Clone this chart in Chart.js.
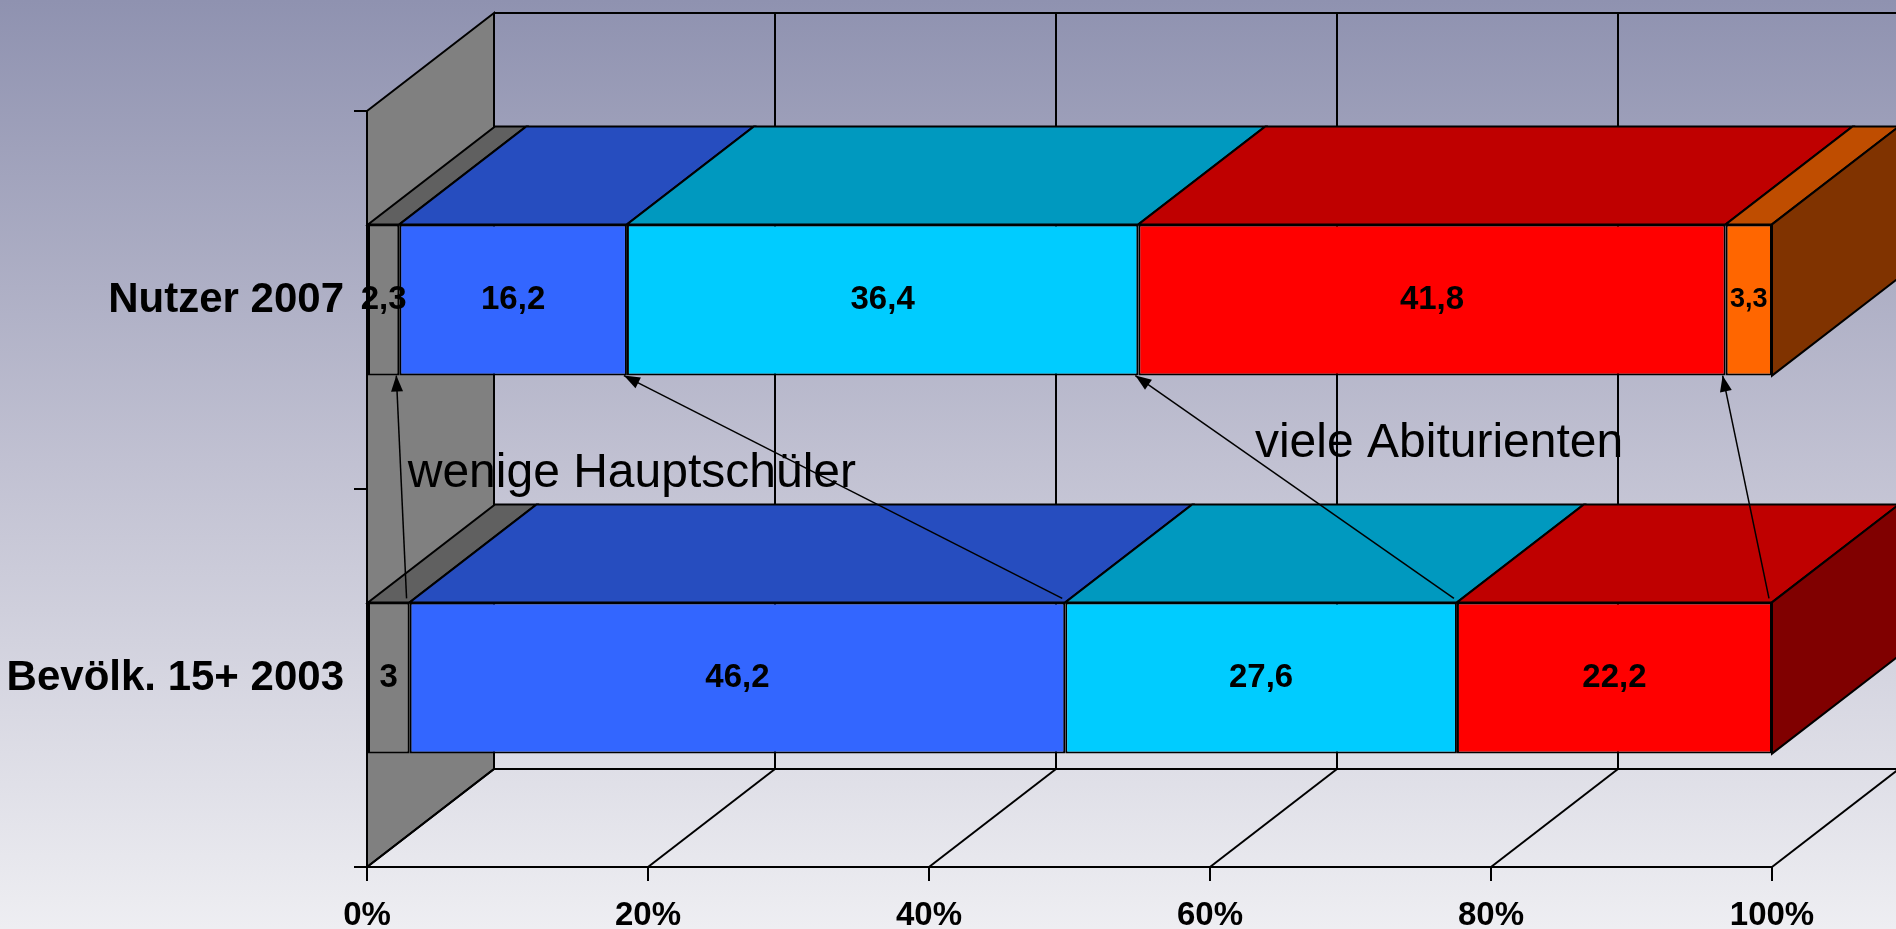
<!DOCTYPE html>
<html>
<head>
<meta charset="utf-8">
<script src="https://cdn.jsdelivr.net/npm/chart.js@4.4.0/dist/chart.umd.min.js"></script>
<style>
  html, body { margin: 0; padding: 0; width: 1896px; height: 929px; overflow: hidden; }
  body { background: linear-gradient(to bottom, #8f92b0 0%, #c1c1d2 50%, #eeeef2 100%); }
  canvas { display: block; }
</style>
</head>
<body>
<canvas id="grafik" width="1896" height="929"></canvas>
<script>
// Daten (Anteile in %, wie in der Vorlage beschriftet)
const kategorien = ['Nutzer 2007', 'Bevölk. 15+ 2003']
const reihen = ['ohne Abschluss', 'Hauptschule', 'Mittlere Reife', 'Abitur', 'sonstige']
const ohneAbschluss = [2.3, 3]
const hauptschule = [16.2, 46.2]
const mittlereReife = [36.4, 27.6]
const abitur = [41.8, 22.2]
const sonstige = [3.3, null]
const xTickSchritt = 20

// Hinweise (Position in Achseneinheiten: x in %, y als Kategorie-Index)
const hinweise = [
  { text: 'wenige Hauptschüler', x: 2.9, y: 0.495 },
  { text: 'viele Abiturienten', x: 63.2, y: 0.415 }
]

const schrift = 'Arial, "Liberation Sans", Helvetica, sans-serif'
const farben = ['#808080', '#3366ff', '#00ccff', '#ff0000', '#ff6600']
const werte = [ohneAbschluss, hauptschule, mittlereReife, abitur, sonstige]

// 100%-gestapelt: jede Zeile auf 100 normieren
const summen = kategorien.map((k, i) => werte.reduce((s, r) => s + (r[i] || 0), 0))

const datasets = werte.map((reihe, j) => ({
  label: reihen[j],
  data: reihe.map((v, i) => v == null ? null : v / summen[i] * 100),
  roh: reihe,
  labelGroesse: j == 4 ? 27 : 33,
  backgroundColor: farben[j],
  borderColor: '#000',
  borderWidth: 2,
  borderSkipped: false,
  barPercentage: 0.4,
  categoryPercentage: 1
}))

// Farbe abdunkeln (fuer Ober- und Seitenflaechen)
function dunkler(hex, f) {
  const n = parseInt(hex.slice(1), 16)
  const r = Math.round(((n >> 16) & 255) * f)
  const g = Math.round(((n >> 8) & 255) * f)
  const b = Math.round((n & 255) * f)
  return 'rgb(' + r + ',' + g + ',' + b + ')'
}

function linie(ctx, x1, y1, x2, y2) {
  ctx.beginPath()
  ctx.moveTo(x1, y1)
  ctx.lineTo(x2, y2)
  ctx.stroke()
}

function flaeche(ctx, punkte, farbe) {
  ctx.beginPath()
  ctx.moveTo(punkte[0][0], punkte[0][1])
  for (let k = 1; k < punkte.length; k++) ctx.lineTo(punkte[k][0], punkte[k][1])
  ctx.closePath()
  ctx.fillStyle = farbe
  ctx.fill()
  ctx.stroke()
}

const TX = 127, TY = 98   // Tiefe der 3D-Darstellung

const raumPlugin = {
  id: 'raum',
  beforeDatasetsDraw(chart) {
    const ctx = chart.ctx
    const a = chart.chartArea
    const x = chart.scales.x
    ctx.save()
    ctx.strokeStyle = '#000'
    ctx.lineWidth = 2
    // linke Wand
    flaeche(ctx, [[a.left, a.top], [a.left + TX, a.top - TY], [a.left + TX, a.bottom - TY], [a.left, a.bottom]], '#808080')
    // Rueckwand oben und Boden hinten
    linie(ctx, a.left + TX, a.top - TY, a.right + TX, a.top - TY)
    linie(ctx, a.left + TX, a.bottom - TY, a.right + TX, a.bottom - TY)
    x.ticks.forEach(t => {
      const p = x.getPixelForValue(t.value)
      linie(ctx, p + TX, a.top - TY, p + TX, a.bottom - TY)
      linie(ctx, p, a.bottom, p + TX, a.bottom - TY)
    })
    ctx.restore()
  },
  afterDatasetsDraw(chart) {
    const ctx = chart.ctx
    const x = chart.scales.x
    const y = chart.scales.y
    const metas = chart.getSortedVisibleDatasetMetas()
    ctx.save()
    ctx.strokeStyle = '#000'
    ctx.lineWidth = 2

    // Oberseiten und Seitenflaeche
    kategorien.forEach((k, i) => {
      let letztes = null
      metas.forEach(m => {
        const ds = chart.data.datasets[m.index]
        if (ds.data[i] == null) return
        const el = m.data[i].getProps(['x', 'y', 'base', 'height'], true)
        const oben = el.y - el.height / 2
        flaeche(ctx, [[el.base, oben], [el.x, oben], [el.x + TX, oben - TY], [el.base + TX, oben - TY]], dunkler(ds.backgroundColor, 0.75))
        letztes = { el: el, farbe: ds.backgroundColor }
      })
      if (letztes) {
        const el = letztes.el
        const oben = el.y - el.height / 2, unten = el.y + el.height / 2
        flaeche(ctx, [[el.x, oben], [el.x + TX, oben - TY], [el.x + TX, unten - TY], [el.x, unten]], dunkler(letztes.farbe, 0.5))
      }
    })

    // Werte-Beschriftung
    ctx.fillStyle = '#000'
    ctx.textAlign = 'center'
    ctx.textBaseline = 'middle'
    metas.forEach(m => {
      const ds = chart.data.datasets[m.index]
      ctx.font = 'bold ' + ds.labelGroesse + 'px ' + schrift
      kategorien.forEach((k, i) => {
        if (ds.roh[i] == null) return
        const el = m.data[i].getProps(['x', 'y', 'base'], true)
        ctx.fillText(String(ds.roh[i]).replace('.', ','), (el.x + el.base) / 2, el.y)
      })
    })

    // Hinweistexte
    ctx.font = '48px ' + schrift
    ctx.textAlign = 'left'
    ctx.textBaseline = 'alphabetic'
    hinweise.forEach(h => {
      ctx.fillText(h.text, x.getPixelForValue(h.x), y.getPixelForValue(h.y))
    })

    // Pfeile: Grenzen Bevoelkerung -> Grenzen Nutzer
    ctx.lineWidth = 1.5
    for (let j = 0; j < 4; j++) {
      const von = metas[j].data[1].getProps(['x', 'y', 'height'], true)
      const zu = metas[j].data[0].getProps(['x', 'y', 'height'], true)
      const x1 = von.x - 3, y1 = von.y - von.height / 2 - 4
      const x2 = zu.x - 3, y2 = zu.y + zu.height / 2
      linie(ctx, x1, y1, x2, y2)
      const w = Math.atan2(y2 - y1, x2 - x1)
      const l = 16, b = 6
      ctx.beginPath()
      ctx.moveTo(x2, y2)
      ctx.lineTo(x2 - l * Math.cos(w) + b * Math.sin(w), y2 - l * Math.sin(w) - b * Math.cos(w))
      ctx.lineTo(x2 - l * Math.cos(w) - b * Math.sin(w), y2 - l * Math.sin(w) + b * Math.cos(w))
      ctx.closePath()
      ctx.fillStyle = '#000'
      ctx.fill()
    }
    ctx.restore()
  }
}

new Chart(document.getElementById('grafik'), {
  type: 'bar',
  data: { labels: kategorien, datasets: datasets },
  plugins: [raumPlugin],
  options: {
    indexAxis: 'y',
    responsive: false,
    animation: false,
    devicePixelRatio: 1,
    layout: { padding: { top: 111, right: 124, left: 0, bottom: 0 } },
    plugins: { legend: { display: false }, tooltip: { enabled: false } },
    scales: {
      x: {
        stacked: true,
        min: 0,
        max: 100,
        ticks: {
          stepSize: xTickSchritt,
          callback: v => v + '%',
          color: '#000',
          padding: 15,
          font: { family: schrift, size: 33, weight: 'bold' }
        },
        grid: { drawOnChartArea: false, tickLength: 14, color: '#000', lineWidth: 2 },
        border: { display: true, color: '#000', width: 2 },
        afterFit(s) { s.height = 62; s.paddingLeft = 0; s.paddingRight = 0 }
      },
      y: {
        stacked: true,
        ticks: {
          color: '#000',
          padding: 10,
          font: { family: schrift, size: 42, weight: 'bold' }
        },
        grid: { drawOnChartArea: false, tickLength: 13, color: '#000', lineWidth: 2, offset: true },
        border: { display: true, color: '#000', width: 2 },
        afterFit(s) { s.width = 367; s.paddingTop = 0; s.paddingBottom = 0 }
      }
    }
  }
})
</script>
</body>
</html>
